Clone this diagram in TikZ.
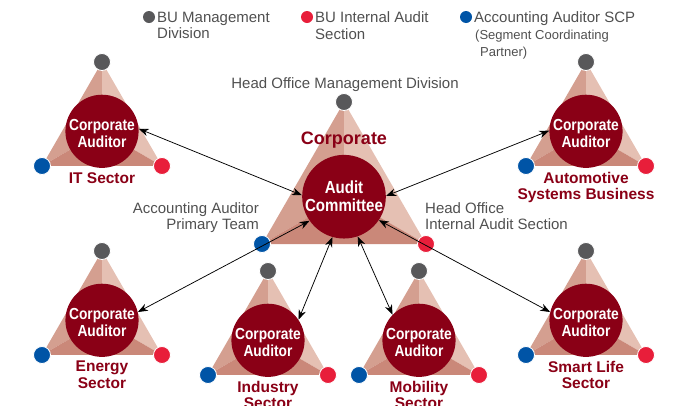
\documentclass[tikz,border=0pt]{standalone}
\usepackage{fontspec}
\setmainfont{Liberation Sans}
\newfontfamily\narrowfont[FakeStretch=0.86]{Liberation Sans}
\usetikzlibrary{positioning}
\usetikzlibrary{arrows.meta}

\definecolor{corpred}{RGB}{138,0,22}
\definecolor{mgmtgray}{RGB}{88,88,90}
\definecolor{auditred}{RGB}{232,30,58}
\definecolor{scpblue}{RGB}{0,84,166}
\definecolor{txtgray}{RGB}{80,80,80}
\definecolor{faceleft}{RGB}{212,159,144}
\definecolor{faceright}{RGB}{229,192,179}
\definecolor{facebottom}{RGB}{202,136,121}

\begin{document}
\begin{tikzpicture}[
    x=1pt, y=-1pt,
    dot/.style={circle, draw=white, line width=0.8pt,
                minimum size=17pt, inner sep=0pt},
    mgmt/.style={dot, fill=mgmtgray},
    buaudit/.style={dot, fill=auditred},
    scp/.style={dot, fill=scpblue},
    keydot/.style={minimum size=12pt, draw=none},
    auditor/.style={circle, fill=corpred, minimum size=68pt, inner sep=0pt,
                    align=center, text=white,
                    font=\narrowfont\bfseries\fontsize{16}{16.5}\selectfont},
    sector/.style={anchor=north, inner sep=0pt, align=center, text=corpred,
                   font=\bfseries\fontsize{15.5}{16.5}\selectfont},
    note/.style={inner sep=0pt, text=txtgray,
                 font=\fontsize{15}{16.5}\selectfont},
    link/.style={{Stealth[length=10pt,width=7.5pt]}-{Stealth[length=10pt,width=7.5pt]},
                 line width=0.75pt},
    tri/.pic={
      \fill[faceleft] (0,0) -- ({-#1/2},{0.866*#1}) -- (0,{0.5774*#1}) -- cycle;
      \fill[faceright] (0,0) -- ({#1/2},{0.866*#1}) -- (0,{0.5774*#1}) -- cycle;
      \fill[facebottom] ({-#1/2},{0.866*#1}) -- ({#1/2},{0.866*#1}) -- (0,{0.5774*#1}) -- cycle;
    }
  ]
  \useasboundingbox (0,0) rectangle (680,405);

  % Legend
  \node[mgmt, keydot] (keymgmt) at (149,17) {};
  \node[note, anchor=north west, align=left] (keymgmttext) at (157,11.5)
       {BU Management\\Division};
  \node[buaudit, keydot] (keyaudit) at (307,17) {};
  \node[note, anchor=north west, align=left] (keyaudittext) at (315,11.5)
       {BU Internal Audit\\Section};
  \node[scp, keydot] (keyscp) at (466,17) {};
  \node[note, anchor=north west] (keyscptext) at (474,11.5) {Accounting Auditor SCP};
  \node[note, anchor=north west, align=left, font=\fontsize{13}{17}\selectfont]
       (keyscpnote) at (475,29.5) {(Segment Coordinating\\\hspace*{5pt}Partner)};

  % Business unit triangles
  \foreach \name/\x/\y in {it/102/62, auto/586/62, energy/102/251,
                           smart/586/251, industry/268/271, mobility/419/271} {
    \pic at (\x,\y) {tri=120};
    \node[mgmt] (\name-mgmt) at (\x,\y) {};
    \node[scp] (\name-scp) at ({\x-60},{\y+104}) {};
    \node[buaudit] (\name-audit) at ({\x+60},{\y+104}) {};
    \node[auditor] (\name) at (\x,{\y+69.3}) {\rule{0pt}{16pt}Corporate\\Auditor};
  }

  % Sector names
  \node[sector] (itlbl) at (102,172) {IT Sector};
  \node[sector] (autolbl) at (586,172) {Automotive\\Systems Business};
  \node[sector] (energylbl) at (102,361) {Energy\\Sector};
  \node[sector] (smartlbl) at (586,361) {Smart Life\\Sector};
  \node[sector] (industrylbl) at (268,381) {Industry\\Sector};
  \node[sector] (mobilitylbl) at (419,381) {Mobility\\Sector};

  % Corporate triangle
  \pic at (344,102) {tri=164};
  \node[mgmt] (hq-mgmt) at (344,102) {};
  \node[scp] (hq-scp) at (262,244) {};
  \node[buaudit] (hq-audit) at (426,244) {};
  \node[auditor, minimum size=83pt,
        font=\narrowfont\bfseries\fontsize{17.5}{18}\selectfont]
       (audit) at (344,196.7) {Audit\\Committee};
  \node[text=corpred, font=\bfseries\fontsize{18}{20}\selectfont, anchor=base]
       (corplbl) at (344,144.5) {Corporate};

  % Corporate side labels
  \node[note, anchor=base] (hqmgmtlbl) at (345,88.5) {Head Office Management Division};
  \node[note, anchor=north east, align=right] (primarylbl) at (259,202)
       {Accounting Auditor\\Primary Team};
  \node[note, anchor=north west, align=left] (hqauditlbl) at (425,202)
       {Head Office\\Internal Audit Section};

  % Reporting lines
  \draw[link] (it.4) -- (audit.178);
  \draw[link] (auto.179) -- (audit.1);
  \draw[link] (energy.13) -- (audit.215);
  \draw[link] (industry.34) -- (audit.254);
  \draw[link] (mobility.136) -- (audit.289);
  \draw[link] (smart.167) -- (audit.326);
\end{tikzpicture}
\end{document}
